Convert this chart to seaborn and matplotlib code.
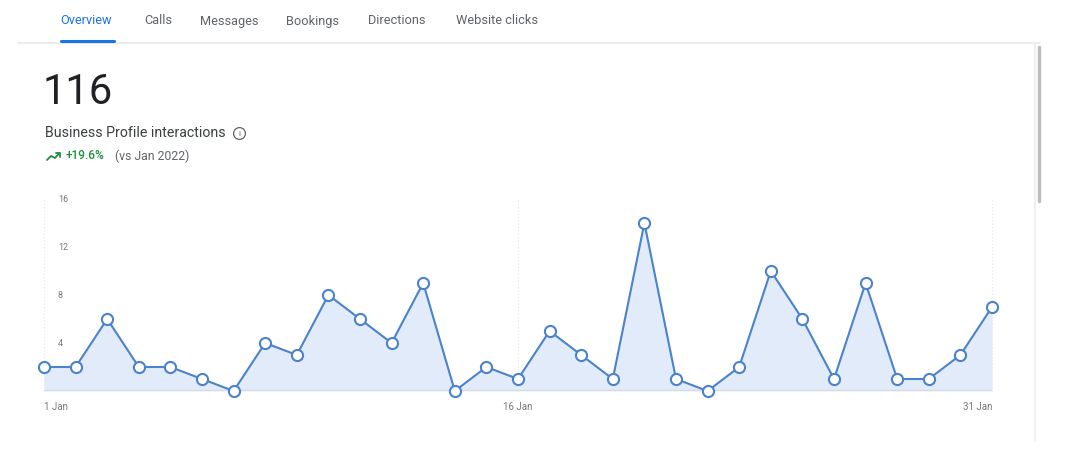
import matplotlib
matplotlib.use("Agg")
import matplotlib.pyplot as plt
import seaborn as sns
import pandas as pd
from matplotlib.lines import Line2D

# ---- data ----
days = list(range(1, 32))
interactions = [2, 2, 6, 2, 2, 1, 0, 4, 3, 8, 6, 4, 9, 0, 2, 1, 5, 3, 1, 14,
                1, 0, 2, 10, 6, 1, 9, 1, 1, 3, 7]
x_tick_days = [1, 16, 31]
x_tick_labels = ["1 Jan", "16 Jan", "31 Jan"]
y_ticks = [4, 8, 12, 16]
tabs = ["Overview", "Calls", "Messages", "Bookings", "Directions", "Website clicks"]
total_label = "116"
metric_label = "Business Profile interactions"
change_label = "+19.6%"
compare_label = "(vs Jan 2022)"

df = pd.DataFrame({"day": days, "value": interactions})

sns.set_theme(style="white")
plt.rcParams["font.family"] = ["Roboto", "DejaVu Sans"]

W, H = 1070, 468
fig = plt.figure(figsize=(W / 100, H / 100), dpi=100)
fig.patch.set_facecolor("white")

def fx(px):
    return px / W

def fy(py):
    return 1 - py / H

# axes: day1 at x=44, day31 at x=992; y=0 at 391, y=16 at 199
ax = fig.add_axes([fx(44), fy(391), fx(992 - 44), (391 - 199) / H])
ax.set_facecolor("none")

line_col = "#4a82cc"
fill_col = "#e2ebfa"

ax.fill_between(df["day"], df["value"], 0, color=fill_col, zorder=1, linewidth=0)
for d in x_tick_days:
    ax.axvline(d, color="#e6e6e6", lw=0.8, ls=(0, (1, 2)), zorder=0.5)
sns.lineplot(data=df, x="day", y="value", ax=ax, color=line_col, lw=1.5,
             marker="o", markersize=8, markerfacecolor="white",
             markeredgecolor=line_col, markeredgewidth=1.5, zorder=3,
             clip_on=False)
for l in ax.lines:
    l.set_clip_on(False)

ax.axhline(0, color="#d6dbe3", lw=2.5, zorder=2)

ax.set_xlim(1, 31)
ax.set_ylim(0, 16)
for s in ax.spines.values():
    s.set_visible(False)
ax.set_xlabel("")
ax.set_ylabel("")

ax.set_yticks(y_ticks)
ax.set_yticklabels([str(v) for v in y_ticks])
ax.tick_params(axis="y", length=0, pad=-10, labelsize=6.5, labelcolor="#777777")
for t in ax.get_yticklabels():
    t.set_horizontalalignment("left")

ax.set_xticks(x_tick_days)
ax.set_xticklabels(x_tick_labels)
ax.tick_params(axis="x", length=0, pad=8, labelsize=7, labelcolor="#777777")
xl = ax.get_xticklabels()
xl[0].set_horizontalalignment("left")
xl[-1].set_horizontalalignment("right")

# ---- tabs ----
tab_x = [60, 144, 200, 286, 368, 456]
for i, (t, x) in enumerate(zip(tabs, tab_x)):
    fig.text(fx(x), fy(21), t, fontsize=9.2, va="center", ha="left",
             color="#1a73e8" if i == 0 else "#5f6368")
fig.add_artist(Line2D([fx(18), fx(1040)], [fy(43), fy(43)], color="#e8eaed", lw=1.2,
                      transform=fig.transFigure))
fig.add_artist(Line2D([fx(61), fx(114)], [fy(41), fy(41)], color="#1a73e8", lw=2.2,
                      solid_capstyle="round", transform=fig.transFigure))

# right panel border & scrollbar
fig.add_artist(Line2D([fx(1035), fx(1035)], [fy(45), fy(440)], color="#f0f0f0", lw=1.5,
                      transform=fig.transFigure))
fig.add_artist(Line2D([fx(1039), fx(1039)], [fy(47), fy(201)], color="#bdbdbd", lw=2.5,
                      solid_capstyle="round", transform=fig.transFigure))

# ---- header ----
fig.text(fx(43), fy(93), total_label, fontsize=30, va="center", ha="left",
         color="#202124")
fig.text(fx(45), fy(133), metric_label, fontsize=10.2, va="center", ha="left",
         color="#3c4043")
fig.add_artist(Line2D([fx(239)], [fy(133)], marker="o", markersize=8.5,
                      markerfacecolor="none", markeredgecolor="#5f6368",
                      markeredgewidth=0.9, transform=fig.transFigure))
fig.text(fx(239), fy(133.5), "i", fontsize=6, va="center", ha="center",
         color="#5f6368")

# trend icon
green = "#1e8e3e"
fig.add_artist(Line2D([fx(47), fx(51), fx(55), fx(59)], [fy(160), fy(156), fy(158), fy(153.5)],
                      color=green, lw=1.3, transform=fig.transFigure))
fig.add_artist(Line2D([fx(56), fx(60), fx(60)], [fy(153), fy(153), fy(157)],
                      color=green, lw=1.3, transform=fig.transFigure))
fig.text(fx(66), fy(156), change_label, fontsize=8.6, va="center", ha="left",
         color=green, fontweight="medium")
fig.text(fx(115), fy(156), compare_label, fontsize=8.8, va="center", ha="left",
         color="#5f6368")

fig.savefig("out.png", dpi=100, facecolor="white")
